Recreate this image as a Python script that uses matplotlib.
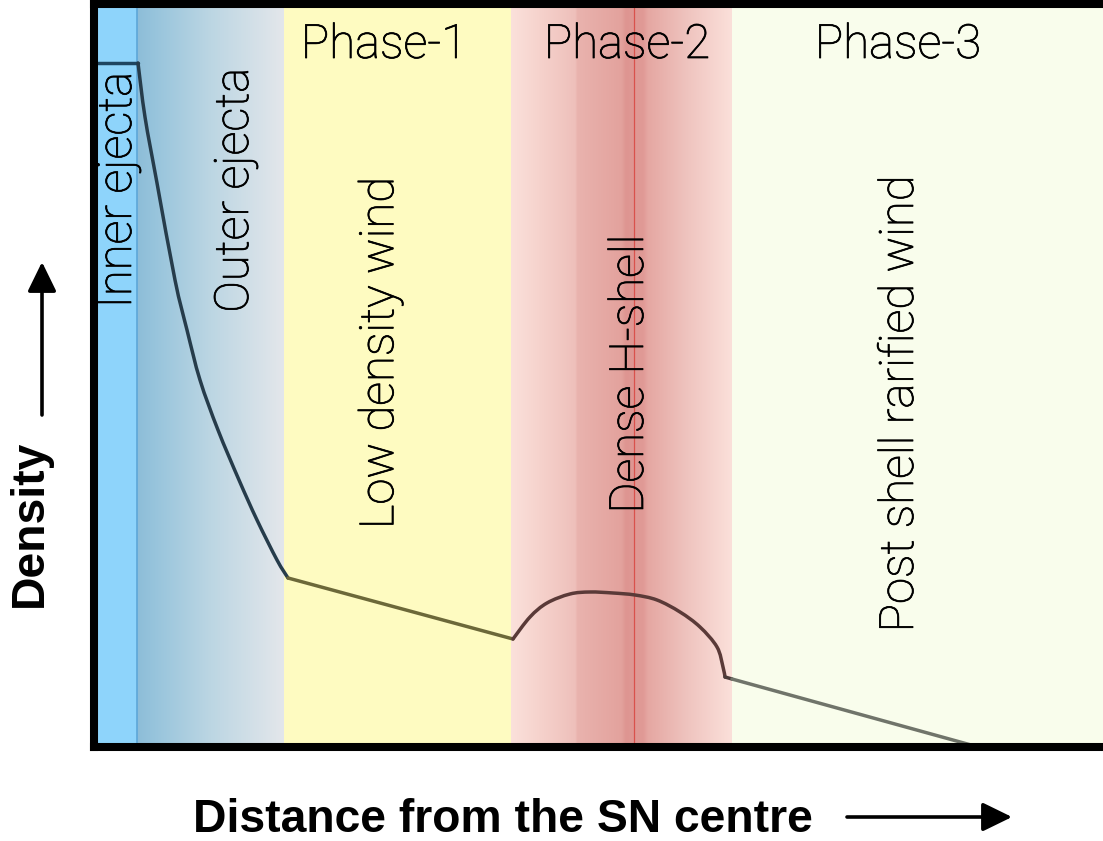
import numpy as np
import matplotlib
matplotlib.use("Agg")
import matplotlib.pyplot as plt
from matplotlib.colors import to_rgb
from matplotlib.path import Path
from matplotlib.patches import PathPatch
import matplotlib.patheffects as pe

# ---------------- data ----------------
region_names = ["Inner ejecta", "Outer ejecta", "Low density wind", "Dense H-shell", "Post shell rarified wind"]
region_edges = [0, 43, 190, 417, 638, 1010]
phase_labels = ["Phase-1", "Phase-2", "Phase-3"]
shell_centre = 540

# density profile pieces
inner_x = [4, 44]
inner_y = [684, 684]
outer_x = [44, 51, 63, 81, 93, 106, 124, 145, 163, 183, 194]
outer_y = [684, 630, 564, 467, 417, 367, 317, 267, 227, 187, 169]
wind_x = [194, 419]
wind_y = [169, 108]
shell_x = [419, 436, 453, 476, 496, 519, 541, 563, 586, 606, 623, 629, 631]
shell_y = [108, 130, 144, 153, 155, 154, 152, 147, 135, 120, 100, 80, 70]
step_x = [631, 638]
step_y = [70, 68]
post_x = [638, 877]
post_y = [68, 2]

# label positions (distance, density)
region_label_x = [24, 141, 286, 536, 806]
region_label_y = [557, 557, 394, 373, 343]
phase_label_x = [290, 533, 804]
phase_label_y = 702

XMAX, YMAX = 1010, 743

# ---------------- figure ----------------
W, H = 1103, 841
fig = plt.figure(figsize=(W / 100, H / 100), dpi=100)
ax = fig.add_axes([94 / W, 1 - 747 / H, (1104 - 94) / W, (747 - 4) / H])
ax.set_xlim(0, XMAX)
ax.set_ylim(0, YMAX)
ax.set_xticks([])
ax.set_yticks([])
for s in ax.spines.values():
    s.set_linewidth(5.8)
    s.set_color("black")
    s.set_zorder(10)


def gradient(x0, x1, stops, z=0):
    pos = [p for p, _ in stops]
    cols = np.array([to_rgb(c) for _, c in stops])
    t = np.linspace(0, 1, 400)
    img = np.stack([np.interp(t, pos, cols[:, k]) for k in range(3)], axis=-1)[None, :, :]
    ax.imshow(img, extent=(x0, x1, 0, YMAX), aspect="auto", zorder=z, interpolation="bilinear")


e = region_edges
ax.axvspan(e[0], e[1], color="#8ED4FB", zorder=0, lw=0)
gradient(e[1], e[2], [(0, "#8DBDD8"), (0.12, "#97C4DC"), (0.5, "#BCD6E3"), (1, "#E4E7EB")])
ax.axvline(e[1], color="#5DA7D8", lw=1.2, zorder=1)
ax.axvspan(e[2], e[3], color="#FEFBC1", zorder=0, lw=0)
gradient(e[3], e[4], [(0, "#FBE1DB"), (0.15, "#F5D0CA"), (0.29, "#EEC0BB"), (0.3, "#E9B3AE"),
                      (0.5, "#E3A29D"), (0.52, "#DE9591"), (0.6, "#E09A96"), (0.62, "#E5A7A2"),
                      (0.8, "#EFC4BF"), (1, "#FBE0DA")])
ax.axvline(shell_centre, color="#D9514C", lw=0.9, zorder=1)
ax.axvspan(e[4], XMAX, color="#F9FDEC", zorder=0, lw=0)


def smooth_path(xs, ys):
    """Catmull-Rom curve through the read points, drawn as cubic Bezier segments."""
    P = np.column_stack([xs, ys]).astype(float)
    ext = np.vstack([P[0], P, P[-1]])
    verts = [P[0]]
    codes = [Path.MOVETO]
    for i in range(1, len(ext) - 2):
        p0, p1, p2, p3 = ext[i - 1], ext[i], ext[i + 1], ext[i + 2]
        verts += [p1 + (p2 - p0) / 6, p2 - (p3 - p1) / 6, p2]
        codes += [Path.CURVE4] * 3
    return Path(verts, codes)


lw = 2.5
seg_style = [
    (inner_x, inner_y, "#1E4560", False),
    (outer_x, outer_y, "#263C4B", True),
    (wind_x, wind_y, "#6C6839", False),
    (shell_x, shell_y, "#5A3A38", True),
    (step_x, step_y, "#4A3A38", False),
    (post_x, post_y, "#70746A", False),
]
for xs, ys, col, smooth in seg_style:
    if smooth:
        ax.add_patch(PathPatch(smooth_path(xs, ys), facecolor="none", edgecolor=col, lw=lw,
                               capstyle="round", zorder=5))
    else:
        ax.plot(xs, ys, color=col, lw=lw, solid_capstyle="round", zorder=5)

thicken = [pe.withStroke(linewidth=0.55, foreground="black")]
font = dict(family=["Roboto", "DejaVu Sans"], fontweight="light", color="black", fontsize=34,
            path_effects=thicken)
for name, lx, ly in zip(region_names, region_label_x, region_label_y):
    ax.text(lx, ly, name, rotation=90, ha="center", va="center", zorder=8, **font)
for name, lx in zip(phase_labels, phase_label_x):
    ax.text(lx, phase_label_y, name, ha="center", va="center", zorder=8, **font)

bold = dict(family=["Liberation Sans", "DejaVu Sans"], fontweight="bold", fontsize=33.3, color="black")
fig.text(30 / W, 1 - 523 / H, "Density", rotation=90, ha="center", va="center", **bold)
fig.text(503 / W, 1 - 820 / H, "Distance from the SN centre", ha="center", va="center", **bold)

arrow = dict(arrowstyle="-|>,head_length=0.45,head_width=0.22", lw=2.6, color="black",
             mutation_scale=40, shrinkA=0, shrinkB=0)
ax.annotate("", xy=(42, H - 262), xytext=(42, H - 415), xycoords="figure pixels",
            textcoords="figure pixels", arrowprops=arrow, annotation_clip=False)
ax.annotate("", xy=(1012, H - 817), xytext=(847, H - 817), xycoords="figure pixels",
            textcoords="figure pixels", arrowprops=arrow, annotation_clip=False)

fig.savefig("out.png", dpi=100)
